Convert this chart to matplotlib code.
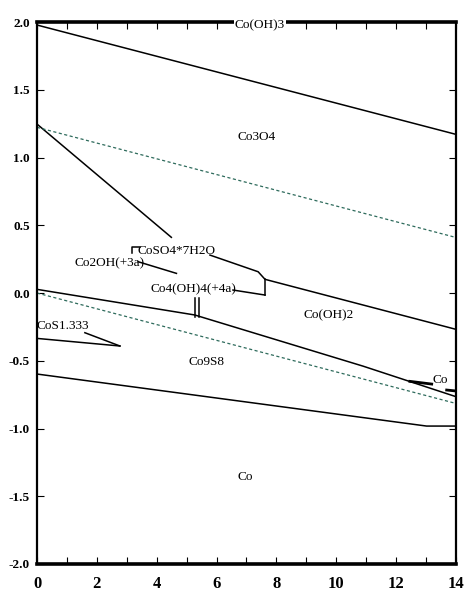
import matplotlib
matplotlib.use("Agg")
import matplotlib.pyplot as plt
from matplotlib.ticker import MultipleLocator, FuncFormatter

# boundary lines of the Eh-pH diagram (pH, Eh in V)
co3o4_top_x = [0, 14]
co3o4_top_y = [1.978, 1.171]
o2_water_x = [0, 14]
o2_water_y = [1.223, 0.41]
h2_water_x = [0, 14]
h2_water_y = [0.0, -0.815]
coso4_upper_x = [0, 4.49]
coso4_upper_y = [1.247, 0.411]
coso4_corner_x = [3.43, 3.16, 3.16]
coso4_corner_y = [0.342, 0.342, 0.293]
coso4_right_x = [5.78, 7.39, 7.62, 14]
coso4_right_y = [0.28, 0.157, 0.101, -0.268]
bracket_x = [7.62, 7.62]
bracket_y = [0.101, -0.015]
co4oh4_x = [6.55, 7.62]
co4oh4_y = [0.022, -0.015]
co2oh_x = [3.38, 4.66]
co2oh_y = [0.231, 0.145]
sulfide_x = [0, 5.27, 10.9, 14]
sulfide_y = [0.027, -0.162, -0.54, -0.765]
double_x1 = [5.27, 5.27]
double_x2 = [5.42, 5.42]
double_y = [-0.039, -0.18]
cos_top_x = [1.6, 2.77]
cos_top_y = [-0.293, -0.391]
cos_bot_x = [0, 2.77]
cos_bot_y = [-0.335, -0.391]
co_sliver_x1 = [12.46, 13.19]
co_sliver_y1 = [-0.652, -0.672]
co_sliver_x2 = [13.69, 14]
co_sliver_y2 = [-0.716, -0.723]
co_metal_x = [0, 13.02, 14]
co_metal_y = [-0.598, -0.982, -0.982]

# region labels
labels = ["Co(OH)3", "Co3O4", "CoSO4*7H2O", "Co2OH(+3a)", "Co4(OH)4(+4a)",
          "Co(OH)2", "CoS1.333", "Co9S8", "Co", "Co"]
label_x = [7.45, 7.34, 4.66, 2.41, 5.22, 9.73, 0.86, 5.66, 13.47, 6.95]
label_y = [1.975, 1.153, 0.312, 0.219, 0.027, -0.162, -0.244, -0.507, -0.642, -1.36]

plt.rcParams['font.family'] = ['Liberation Serif', 'DejaVu Serif']

fig = plt.figure(figsize=(4.66, 5.91), dpi=100)
ax = fig.add_axes([0.0794, 0.0457, 0.899, 0.917])
ax.set_xlim(0, 14)
ax.set_ylim(-2.0, 2.0)

solid = dict(color="black", lw=1.1)
ax.plot(co3o4_top_x, co3o4_top_y, **solid)
ax.plot(coso4_upper_x, coso4_upper_y, **solid)
ax.plot(coso4_corner_x, coso4_corner_y, **solid)
ax.plot(coso4_right_x, coso4_right_y, **solid)
ax.plot(bracket_x, bracket_y, **solid)
ax.plot(co4oh4_x, co4oh4_y, **solid)
ax.plot(co2oh_x, co2oh_y, **solid)
ax.plot(sulfide_x, sulfide_y, **solid)
ax.plot(double_x1, double_y, **solid)
ax.plot(double_x2, double_y, **solid)
ax.plot(cos_top_x, cos_top_y, **solid)
ax.plot(cos_bot_x, cos_bot_y, **solid)
ax.plot(co_sliver_x1, co_sliver_y1, color="black", lw=2.0)
ax.plot(co_sliver_x2, co_sliver_y2, color="black", lw=2.0)
ax.plot(co_metal_x, co_metal_y, **solid)

# water stability lines
dashed = dict(color="#2e6b5c", lw=0.9, linestyle=(0, (2.5, 2)))
ax.plot(o2_water_x, o2_water_y, **dashed)
ax.plot(h2_water_x, h2_water_y, **dashed)

for i, (s, x, y) in enumerate(zip(labels, label_x, label_y)):
    kw = dict(ha="center", va="center", fontsize=9.5)
    if i == 0:
        kw["bbox"] = dict(facecolor="white", edgecolor="none", pad=0.5)
        kw["zorder"] = 5
    ax.text(x, y, s, **kw)

# axes frame: heavy top/bottom
ax.spines["top"].set_linewidth(2.6)
ax.spines["bottom"].set_linewidth(2.6)
ax.spines["left"].set_linewidth(1.6)
ax.spines["right"].set_linewidth(1.6)

ax.xaxis.set_major_locator(MultipleLocator(1))
ax.xaxis.set_major_formatter(FuncFormatter(lambda v, p: "%d" % v if int(round(v)) % 2 == 0 else ""))
ax.yaxis.set_major_locator(MultipleLocator(0.5))
ax.yaxis.set_major_formatter(FuncFormatter(lambda v, p: "%.1f" % v))
ax.tick_params(axis="x", direction="in", length=5, width=0.8, top=True, pad=9,
               labelsize=12)
ax.tick_params(axis="y", direction="in", length=5, width=0.8, right=True, pad=5,
               labelsize=9.5)
for t in ax.get_xticklabels() + ax.get_yticklabels():
    t.set_fontweight("bold")

fig.savefig("out.png", dpi=100)
